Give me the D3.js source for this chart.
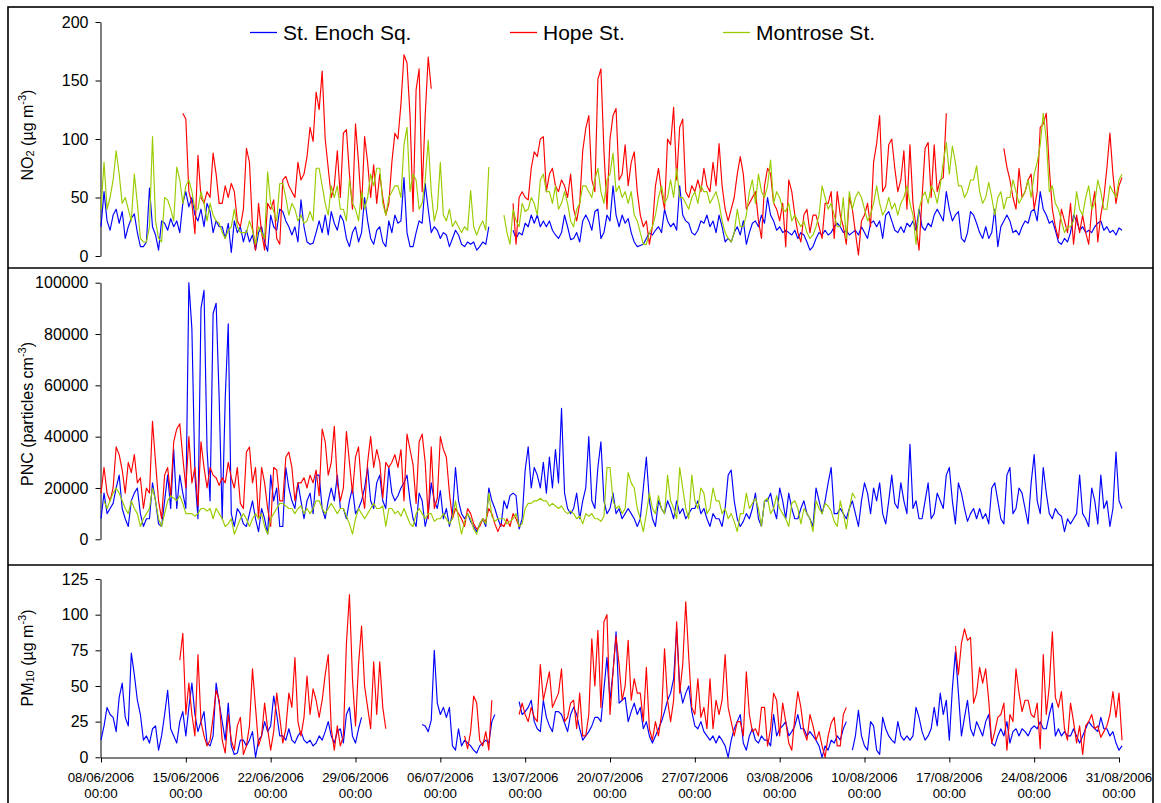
<!DOCTYPE html>
<html>
<head>
<meta charset="utf-8">
<script src="https://cdn.jsdelivr.net/npm/d3@7"></script>
<style>
  body { margin: 0; background: #fff; }
  svg { display: block; }
  text { font-family: "Liberation Sans", Arial, Helvetica, sans-serif; fill: #000; }
</style>
</head>
<body>
<svg id="chart" width="1161" height="803"></svg>
<script>
// Records sampled every 6 hours, starting 08/06/2006 00:00.
// null = no measurement.

const sites = ["St. Enoch Sq.", "Hope St.", "Montrose St."];
const dateTicks = ["08/06/2006", "15/06/2006", "22/06/2006", "29/06/2006", "06/07/2006", "13/07/2006",
                   "20/07/2006", "27/07/2006", "03/08/2006", "10/08/2006", "17/08/2006", "24/08/2006", "31/08/2006"];
const no2Ticks = [0, 50, 100, 150, 200];
const pncTicks = [0, 20000, 40000, 60000, 80000, 100000];
const pm10Ticks = [0, 25, 50, 75, 100, 125];

// NO2 (ug m-3)
const no2Enoch = [
  25,55,30,22, 35,40,28,38, 15,25,32,36, 20,8,8,12,            // 08/06-11/06
  58,25,18,5, 30,28,22,32, 25,30,20,45, 55,42,50,35,           // 12/06-15/06
  30,40,25,45, 38,20,30,25, 25,15,28,3, 30,20,25,12,           // 16/06-19/06
  22,12,18,5, 20,25,12,4, 35,25,22,40, 38,30,25,18,            // 20/06-23/06
  25,12,48,25, 12,10,11,20, 30,20,35,18, 38,28,22,35,          // 24/06-27/06
  30,15,8,20, 25,12,20,50, 30,15,10,22, 25,12,8,30,            // 28/06-01/07
  20,35,28,30, 67,20,8,8, 20,30,28,62, 40,20,25,22,            // 02/07-05/07
  15,20,18,8, 15,22,18,10, 8,12,10,12, 5,8,12,10,              // 06/07-09/07
  25,null,null,null, null,null,null,null, 22,15,20,18, 28,25,35,28, // 10/07-13/07
  35,25,30,25, 30,22,18,15, 20,35,25,14, 15,20,12,30,          // 14/07-17/07
  35,30,22,38, 40,15,20,35, 30,60,35,25, 35,28,32,20,          // 18/07-21/07
  12,8,9,10, 15,20,18,22, 25,20,40,30, 25,28,22,60,            // 22/07-25/07
  35,30,28,20, 18,22,30,28, 35,25,30,20, 35,25,12,15,          // 26/07-29/07
  12,20,25,18, 30,10,20,28, 30,25,35,28, 50,35,30,22,          // 30/07-02/08
  25,20,22,20, 18,22,15,20, 18,12,5,8, 15,20,18,22,            // 03/08-06/08
  18,20,25,28, 25,20,22,18, 20,22,18,25, 20,15,28,30,          // 07/08-10/08
  25,30,15,35, 38,30,22,20, 25,20,28,25, 30,22,40,25,          // 11/08-14/08
  22,28,25,35, 40,35,30,55, 40,30,35,38, 15,12,20,38,          // 15/08-18/08
  35,28,20,15, 25,15,20,40, 8,25,30,35, 30,20,22,18,           // 19/08-22/08
  25,30,28,38, 40,30,55,40, 35,28,30,22, 12,10,15,12,          // 23/08-26/08
  20,35,30,22, 25,20,22,20, 25,28,30,22, 25,20,22,18,          // 27/08-30/08
  24,22                                                        // 31/08
];
const no2Hope = [
  null,null,null,null, null,null,null,null, null,null,null,null, null,null,null,null,
  null,null,null,null, null,null,null,null, null,null,null,122, 117,55,45,19,
  86,50,45,55, 50,88,70,45, 45,60,50,62, 55,30,25,40,
  92,80,25,5, 45,20,5,45, 40,48,15,10, 65,68,60,55,
  50,80,65,70, 85,110,98,140, 125,158,100,75, 50,60,90,50,
  105,108,70,40, 113,80,40,102, 80,50,78,45, 70,50,35,45,
  80,105,100,130, 172,165,120,38, 142,160,55,120, 170,143,null,null,
  null,null,null,null, null,null,null,null, null,null,null,null, null,null,null,null,
  null,null,null,null, null,null,null,null, 45,10,50,55, 50,48,75,89,
  85,100,102,55, 70,75,60,55, 65,60,50,70, 40,30,45,90,
  109,120,65,55, 151,160,90,40, 100,120,126,65, 70,95,60,80,
  89,55,35,25, 30,10,25,60, 75,55,40,100, 95,127,65,110,
  117,55,50,60, 55,65,55,75, 60,55,80,60, 96,60,40,30,
  40,50,70,85, 70,40,45,50, 55,30,15,60, 75,70,45,40,
  30,45,8,65, 55,35,20,12, 35,40,20,35, 35,25,15,45,
  45,55,15,55, 35,25,10,50, 40,20,1,30, 35,45,25,80,
  96,120,55,60, 95,100,75,55, 65,90,40,95, 45,25,5,50,
  92,97,50,95, 55,65,67,122, null,null,null,null, null,null,null,null,
  null,null,null,null, null,null,null,null, null,null,92,76, 65,50,40,75,
  50,55,65,70, 40,55,110,113, 122,75,40,25, 15,40,30,20,
  45,10,35,20, 35,20,10,40, 55,12,35,50, 75,105,70,45,
  60,67
];
const no2Montrose = [
  40,80,40,50, 65,90,70,45, 50,40,30,70, 45,15,12,12,
  25,102,30,15, 12,50,48,40, 30,76,65,45, 60,65,55,40,
  40,55,45,30, 45,35,30,28, 20,15,22,25, 40,25,20,20,
  20,30,22,10, 25,20,15,72, 45,38,30,62, 62,50,35,45,
  40,30,35,28, 30,38,30,75, 75,60,45,35, 60,50,60,40,
  40,30,65,45, 40,30,55,40, 50,70,60,75, 75,45,35,50,
  55,60,60,50, 95,110,55,70, 65,40,45,65, 99,55,30,40,
  80,35,30,40, 25,30,25,20, 25,22,56,25, 18,25,30,22,
  76,null,null,null, null,35,20,10, 40,30,25,45, 38,40,50,45,
  35,65,70,55, 55,45,60,40, 45,55,45,30, 25,40,45,60,
  60,55,50,65, 75,55,45,65, 70,88,55,60, 50,55,45,55,
  35,30,20,10, 10,20,25,35, 50,60,45,50, 65,50,75,50,
  50,45,40,50, 55,45,60,55, 55,45,50,55, 45,30,20,15,
  12,20,40,25, 25,35,55,65, 45,70,55,50, 60,82,45,55,
  50,40,38,45, 30,35,30,25, 30,20,15,18, 25,35,60,50,
  40,45,35,25, 25,50,15,55, 40,50,55,50, 40,30,35,45,
  60,45,35,40, 50,40,45,35, 45,50,60,45, 35,10,40,50,
  55,45,60,55, 45,60,80,97, 70,94,80,60, 60,50,55,65,
  65,77,55,45, 50,63,50,35, 50,55,40,50, 50,65,55,45,
  50,55,65,50, 70,80,95,122, 100,55,60,45, 40,30,20,25,
  25,30,55,40, 35,50,60,40, 45,65,55,40, 40,60,55,50,
  65,70
];

// Particle number concentration (particles cm-3)
const pncEnoch = [
  8000,18000,10000,12000, 14000,20000,25000,12000, 8000,5000,15000,18000, 20000,10000,5000,8000,
  8000,22000,15000,6000, 5000,15000,25000,12000, 35000,12000,25000,18000, 12000,100000,82000,25000,
  8000,90000,97000,35000, 15000,88000,92000,55000, 8000,55000,84000,10000, 5000,12000,10000,6000,
  5000,10000,15000,8000, 3000,12000,8000,2000, 25000,15000,20000,5000, 5000,28000,20000,15000,
  12000,22000,15000,8000, 15000,18000,10000,25000, 25000,12000,8000,15000, 20000,15000,25000,12000,
  12000,8000,15000,20000, 10000,12000,15000,20000, 28000,15000,12000,22000, 25000,15000,12000,28000,
  18000,15000,17000,20000, 22000,25000,15000,8000, 5000,18000,15000,5000, 10000,22000,15000,12000,
  19000,8000,12000,5000, 10000,28000,15000,10000, 8000,10000,7000,5000, 3000,6000,8000,5000,
  20000,15000,12000,8000, 5000,15000,12000,17000, 18000,17000,4000,8000, 27000,36000,20000,28000,
  25000,20000,30000,18000, 32000,20000,35000,22000, 51000,18000,12000,10000, 12000,18000,8000,15000,
  20000,40000,15000,12000, 28000,38000,15000,10000, 12000,18000,10000,12000, 8000,10000,12000,10000,
  8000,5000,8000,20000, 32000,15000,8000,5000, 15000,12000,10000,15000, 12000,8000,15000,10000,
  12000,8000,10000,12000, 12000,15000,10000,12000, 8000,5000,10000,8000, 8000,5000,12000,25000,
  27000,15000,8000,5000, 7000,10000,8000,12000, 18000,8000,5000,15000, 15000,18000,12000,8000,
  20000,15000,8000,18000, 12000,8000,8000,12000, 15000,10000,8000,5000, 20000,15000,10000,15000,
  22000,28000,10000,10000, 12000,10000,8000,12000, 15000,10000,5000,15000, 22000,18000,10000,20000,
  15000,22000,10000,6000, 15000,25000,14000,12000, 22000,15000,10000,37000, 12000,15000,8000,8000,
  15000,22000,8000,10000, 18000,15000,12000,25000, 28000,15000,6000,22000, 18000,12000,7000,10000,
  12000,8000,12000,8000, 10000,6000,20000,22000, 15000,8000,6000,25000, 28000,10000,12000,20000,
  18000,12000,6000,22000, 33000,15000,10000,28000, 18000,10000,8000,12000, 10000,9000,3000,8000,
  6000,8000,10000,25000, 10000,8000,5000,20000, 15000,6000,25000,12000, 15000,5000,12000,34000,
  15000,12000
];
const pncHope = [
  18000,28000,18000,15000, 20000,36000,33000,27000, 18000,30000,26000,33000, 22000,24000,12000,20000,
  18000,46000,30000,15000, 8000,25000,28000,17000, 38000,43000,45000,32000, 20000,40000,22000,28000,
  13000,38000,28000,20000, 28000,25000,24000,21000, 24000,22000,30000,24000, 20000,28000,14000,12000,
  34000,36000,22000,28000, 8000,28000,22000,12000, 5000,28000,27000,15000, 15000,32000,34000,28000,
  15000,22000,22000,24000, 20000,25000,22000,27000, 17000,43000,38000,25000, 30000,44000,22000,15000,
  20000,42000,30000,18000, 32000,36000,20000,12000, 30000,40000,28000,35000, 30000,16000,30000,28000,
  30000,33000,28000,35000, 15000,41000,35000,29000, 14000,38000,41000,30000, 8000,36000,12000,16000,
  40000,35000,32000,18000, 8000,12000,10000,8000, 5000,12000,10000,6000, 4000,5000,8000,7000,
  12000,10000,6000,3000, 6000,5000,8000,5000, 10000,8000,5000
];
const pncMontrose = [
  null,15000,12000,15000, 18000,20000,18000,15000, 12000,10000,15000,12000, 10000,5000,8000,10000,
  12000,20000,15000,8000, 5000,10000,15000,17000, 16000,15000,17000,14000, 10000,10000,10000,9000,
  10000,12000,12000,11000, 12000,8000,12000,10000, 8000,5000,6000,8000, 2000,5000,8000,10000,
  8000,5000,8000,10000, 8000,10000,5000,2000, 8000,10000,12000,14000, 14000,13000,12000,12000,
  10000,12000,13000,10000, 12000,10000,12000,15000, 15000,12000,10000,12000, 14000,12000,10000,12000,
  12000,9000,6000,2000, 8000,12000,10000,8000, 10000,12000,14000,12000, 12000,13000,5000,12000,
  12000,10000,11000,9000, 12000,9000,6000,5000, 10000,12000,10000,8000, 10000,10000,7000,8000,
  8000,10000,8000,6000, 8000,15000,8000,2000, 7000,10000,8000,4000, 2000,6000,8000,6000,
  18000,9000,7000,8000, 8000,8000,6000,7000, 8000,10000,5000,6000, 12000,14000,14000,15000,
  15000,16000,15000,15000, 13000,14000,13000,12000, 13000,11000,10000,11000, 10000,8000,9000,6000,
  10000,9000,10000,8000, 8000,7000,9000,28000, 28000,15000,12000,13000, 10000,12000,26000,22000,
  20000,12000,8000,3000, 10000,18000,12000,10000, 17000,12000,10000,25000, 15000,12000,8000,28000,
  20000,12000,8000,25000, 15000,12000,20000,18000, 10000,12000,20000,15000, 15000,10000,12000,8000,
  10000,7000,3000,10000, 10000,18000,12000,14000, 16000,12000,5000,15000, 16000,10000,12000,17000,
  12000,10000,8000,5000, 14000,15000,12000,6000, 12000,10000,8000,3000, 15000,12000,10000,14000,
  13000,11000,7000,5000, 15000,10000,4000,12000, 18000,16000
];

// PM10 (ug m-3)
const pm10Enoch = [
  12,22,35,30, 28,18,42,52, 28,22,73,58, 40,30,12,15,
  10,20,22,5, 15,30,47,20, 15,10,25,32, 15,35,52,30,
  18,25,32,10, 8,15,52,38, 25,12,38,8, 2,3,12,12,
  8,12,18,0, 12,15,25,18, 22,43,30,15, 15,12,20,12,
  10,15,18,12, 10,12,8,10, 15,12,18,25, 15,10,18,20,
  10,30,35,15, 10,20,28,null, null,null,null,null, null,null,null,null,
  null,null,null,null, null,null,null,null, null,null,23,22, 18,26,75,38,
  30,35,28,35, 8,5,20,8, 12,10,8,5, 3,8,10,12,
  10,25,30,null, null,null,null,null, null,null,39,30, 32,35,40,25,
  20,18,40,28, 22,18,32,32, 30,24,18,30, 35,30,20,12,
  15,18,22,28, 28,25,48,70, 40,60,88,38, 40,42,25,32,
  38,30,35,20, 25,15,10,15, 20,25,32,40, 45,55,90,50,
  38,45,50,32, 22,20,25,18, 15,12,15,10, 15,12,8,0,
  12,20,25,30, 10,5,15,20, 12,10,15,12, 12,8,30,15,
  20,22,25,15, 18,22,30,20, 20,15,18,15, 12,8,0,8,
  5,12,10,15, 12,20,25,null, 5,15,33,15, 8,5,25,22,
  5,2,28,20, 15,12,10,25, 15,12,15,12, 15,35,28,18,
  12,15,20,35, 22,45,30,40, 12,48,74,45, 15,28,40,20,
  15,25,20,15, 25,30,10,8, 15,20,15,25, 10,18,20,15,
  20,18,15,20, 22,20,25,20, 20,30,38,15, 20,15,18,15,
  15,20,15,10, 15,20,25,22, 20,18,28,20, 20,15,18,10,
  5,8
];
const pm10Hope = [
  null,null,null,null, null,null,null,null, null,null,null,null, null,null,null,null,
  null,null,null,null, null,null,null,null, null,null,68,87, 30,52,30,15,
  72,25,15,8, 12,28,47,40, 12,3,30,12, 5,22,28,2,
  8,22,62,35, 8,15,38,20, 5,18,45,28, 10,20,45,35,
  70,25,15,28, 57,30,48,40, 28,40,58,72, 20,5,22,8,
  15,80,114,55, 22,65,92,50, 35,20,67,30, 67,35,20,null,
  null,null,null,null, null,null,null,null, null,null,null,null, null,null,null,null,
  null,null,null,null, null,null,null,null, 15,6,18,43, 38,12,8,18,
  5,40,null,null, null,null,null,null, null,null,30,38, 30,25,35,28,
  25,65,40,50, 60,35,40,45, 62,25,28,38, 40,20,45,15,
  15,30,83,50, 89,35,95,100, 30,60,85,65, 40,50,82,40,
  55,45,45,25, 63,20,12,25, 15,30,76,40, 25,40,95,45,
  65,109,70,35, 30,55,28,35, 20,55,20,40, 30,40,72,35,
  25,15,25,25, 15,60,30,18, 20,15,35,35, 8,20,45,40,
  15,38,25,10, 5,28,46,35, 18,12,30,22, 12,18,8,0,
  15,24,28,8, 8,30,35,null, null,null,null,null, null,null,null,null,
  null,null,null,null, null,null,null,null, null,null,null,null, null,null,null,null,
  null,null,null,null, null,null,null,null, null,null,78,58, 80,90,82,84,
  38,45,63,52, 62,40,10,18, 28,30,38,5, 30,25,62,45,
  32,40,40,30, 28,38,6,72, 30,50,88,42, 35,46,20,12,
  38,25,10,22, 2,22,25,30, 20,22,14,18, 22,30,46,28,
  45,12
];

const colours = { enoch: "#0000ff", hope: "#ff0000", montrose: "#99cc00" };

const parseDay = d3.timeParse("%d/%m/%Y");
const start = parseDay("08/06/2006");
const stepMs = 6 * 3600 * 1000;
const asPoints = arr => arr.map((v, i) => ({ t: new Date(start.getTime() + i * stepMs), v }));

const svg = d3.select("#chart");
const x = d3.scaleTime()
  .domain([parseDay(dateTicks[0]), parseDay(dateTicks[dateTicks.length - 1])])
  .range([101, 1119]);

// outer frame and panel dividers
svg.append("rect").attr("x", 8).attr("y", 7).attr("width", 1145).attr("height", 830)
  .attr("fill", "none").attr("stroke", "#000").attr("stroke-width", 1.6);
[268, 565].forEach(yy => svg.append("line")
  .attr("x1", 8).attr("x2", 1153).attr("y1", yy).attr("y2", yy)
  .attr("stroke", "#000").attr("stroke-width", 1.6));

const panels = [
  { top: 22, bottom: 256, max: 200, ticks: no2Ticks, titleY: 135,
    title: [["NO"], ["2", "sub"], [" (µg m"], ["-3", "sup"], [")"]],
    series: [[no2Enoch, colours.enoch], [no2Hope, colours.hope], [no2Montrose, colours.montrose]] },
  { top: 282.7, bottom: 539.3, max: 100000, ticks: pncTicks, titleY: 414,
    title: [["PNC (particles cm"], ["-3", "sup"], [")"]],
    series: [[pncEnoch, colours.enoch], [pncHope, colours.hope], [pncMontrose, colours.montrose]] },
  { top: 579, bottom: 757.3, max: 125, ticks: pm10Ticks, titleY: 658,
    title: [["PM"], ["10", "sub"], [" (µg m"], ["-3", "sup"], [")"]],
    series: [[pm10Enoch, colours.enoch], [pm10Hope, colours.hope]] }
];

panels.forEach(p => {
  const y = d3.scaleLinear().domain([0, p.max]).range([p.bottom, p.top]);

  const ax = svg.append("g").attr("transform", "translate(100.5,0)")
    .call(d3.axisLeft(y).tickValues(p.ticks).tickSize(5).tickSizeOuter(0).tickPadding(7)
      .tickFormat(d3.format("d")));
  ax.attr("font-size", 16).attr("font-family", null);
  ax.selectAll("line, path").attr("stroke", "#000");

  const line = d3.line()
    .defined(d => d.v != null)
    .x(d => x(d.t))
    .y(d => y(d.v));

  p.series.forEach(([values, colour]) => {
    svg.append("path")
      .datum(asPoints(values))
      .attr("fill", "none")
      .attr("stroke", colour)
      .attr("stroke-width", 1.15)
      .attr("stroke-linejoin", "round")
      .attr("d", line);
  });

  // rotated axis title with sub/superscripts
  const t = svg.append("text")
    .attr("transform", `translate(33,${p.titleY}) rotate(-90)`)
    .attr("text-anchor", "middle")
    .attr("font-size", 16);
  let shifted = 0;
  p.title.forEach(([txt, kind]) => {
    const ts = t.append("tspan").text(txt);
    if (kind === "sub") {
      ts.attr("font-size", 11).attr("dy", 1 - shifted); shifted = 1;
    } else if (kind === "sup") {
      ts.attr("font-size", 11).attr("dy", -7 - shifted); shifted = -7;
    } else if (shifted !== 0) {
      ts.attr("dy", -shifted); shifted = 0;
    }
  });
});

// time axis along the bottom panel
const tickDates = dateTicks.map(parseDay);
const xa = svg.append("g").attr("transform", "translate(0,757.5)")
  .call(d3.axisBottom(x).tickValues(tickDates).tickSize(5).tickSizeOuter(0).tickFormat(""));
xa.selectAll("line, path").attr("stroke", "#000");
const lab = svg.append("g").attr("font-size", 13.3).attr("text-anchor", "middle");
tickDates.forEach((d, i) => {
  lab.append("text").attr("x", x(d)).attr("y", 782).text(dateTicks[i]);
  lab.append("text").attr("x", x(d)).attr("y", 798).text("00:00");
});

// legend
const legend = [
  { name: sites[0], colour: colours.enoch, x: 250 },
  { name: sites[1], colour: colours.hope, x: 510 },
  { name: sites[2], colour: colours.montrose, x: 723 }
];
legend.forEach(l => {
  svg.append("line").attr("x1", l.x).attr("x2", l.x + 27).attr("y1", 32.5).attr("y2", 32.5)
    .attr("stroke", l.colour).attr("stroke-width", 1.3);
  svg.append("text").attr("x", l.x + 33).attr("y", 39.5).attr("font-size", 21).text(l.name);
});
</script>
</body>
</html>
